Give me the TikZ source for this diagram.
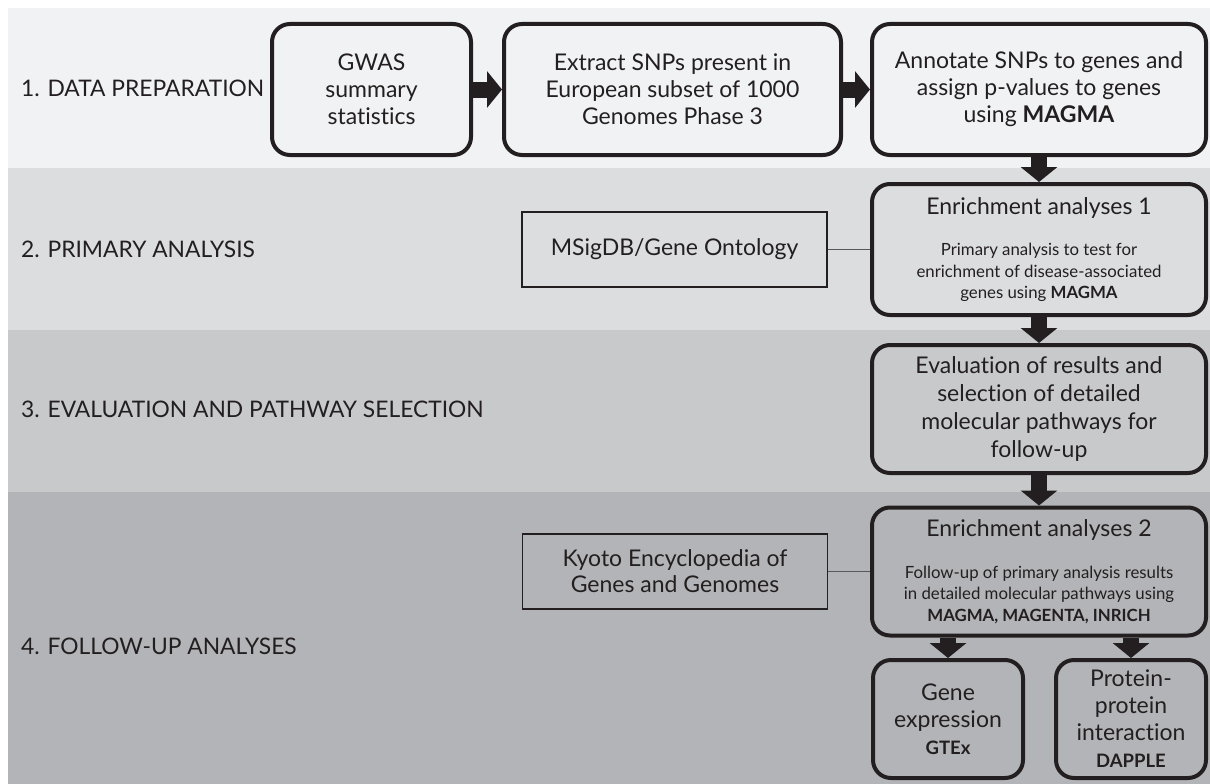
\documentclass[tikz,border=0pt]{standalone}
\usepackage{fontspec}
\setmainfont{Lato}[Ligatures=NoCommon]
\usetikzlibrary{arrows.meta}

\definecolor{ink}{HTML}{231F20}
\definecolor{bandA}{HTML}{F1F2F3}
\definecolor{bandB}{HTML}{DCDDDF}
\definecolor{bandC}{HTML}{C8C9CB}
\definecolor{bandD}{HTML}{B3B4B7}

\newcommand{\toolfont}{\fontsize{18.5}{22}\selectfont\bfseries}

\begin{document}
\begin{tikzpicture}[x=1pt,y=-1pt,
    stagebox/.style={draw=ink, line width=4pt, rounded corners=18pt, align=center,
        text=ink, inner sep=0pt, font=\fontsize{23}{27}\selectfont},
    dbbox/.style={draw=ink, line width=1.5pt, align=center, text=ink, inner sep=0pt,
        font=\fontsize{23}{26}\selectfont},
    smalltext/.style={font=\fontsize{16.8}{21.5}\selectfont},
    bigarrow/.style={draw=ink, line width=16pt, -{Triangle[width=36pt,length=15pt]}},
    link/.style={draw=ink!75, line width=1.2pt},
    steplabel/.style={anchor=west, text=ink, inner sep=0pt, font=\fontsize{22.8}{26}\selectfont}]

    \useasboundingbox (0,0) rectangle (1210,784);

    % Bands
    \foreach \top/\bot/\col in {8/168/bandA, 168/330/bandB, 330/492/bandC, 492/784/bandD}
        \fill[\col] (8,\top) rectangle (1210,\bot);

    % Stage labels
    \node[steplabel] (lab1) at (21,88)  {1. DATA PREPARATION};
    \node[steplabel] (lab2) at (21,249) {2. PRIMARY ANALYSIS};
    \node[steplabel] (lab3) at (21,409) {3. EVALUATION AND PATHWAY SELECTION};
    \node[steplabel] (lab4) at (21,646) {4. FOLLOW-UP ANALYSES};

    % Data preparation
    \node[stagebox, minimum width=199, minimum height=131] (gwas) at (371.5,89.5)
        {GWAS\\ summary\\ statistics};
    \node[stagebox, minimum width=337, minimum height=131] (extract) at (672.5,89.5)
        {Extract SNPs present in\\ European subset of 1000\\ Genomes Phase 3};
    \node[stagebox, minimum width=334, minimum height=131] (annot) at (1039,89.5)
        {Annotate SNPs to genes and\\ assign p-values to genes\\ using \textbf{MAGMA}};

    % Primary analysis
    \node[stagebox, smalltext, minimum width=334, minimum height=131] (enr1) at (1039,249.5)
        {{\fontsize{23}{27}\selectfont Enrichment analyses 1}\\[20pt]
         Primary analysis to test for\\ enrichment of disease-associated\\
         genes using \textbf{MAGMA}};
    \node[dbbox, minimum width=305, minimum height=75] (msig) at (674.5,249.5)
        {MSigDB/Gene Ontology};

    % Evaluation
    \node[stagebox, minimum width=334, minimum height=128, font=\fontsize{23}{27.7}\selectfont]
        (eval) at (1039,409)
        {Evaluation of results and\\ selection of detailed\\ molecular pathways for\\ follow-up};

    % Follow-up
    \node[stagebox, smalltext, minimum width=334, minimum height=128] (enr2) at (1039,571.5)
        {{\fontsize{23}{27}\selectfont Enrichment analyses 2}\\[20pt]
         Follow-up of primary analysis results\\ in detailed molecular pathways using\\
         \textbf{MAGMA, MAGENTA, INRICH}};
    \node[dbbox, minimum width=305, minimum height=75] (kegg) at (675,571.5)
        {Kyoto Encyclopedia of\\ Genes and Genomes};
    \node[stagebox, minimum width=150, minimum height=118] (gene) at (948,719)
        {Gene\\ expression\\ {\toolfont GTEx}};
    \node[stagebox, minimum width=150, minimum height=118] (prot) at (1131,719)
        {Protein-\\ protein\\ interaction\\ {\toolfont DAPPLE}};

    % Arrows
    \draw[bigarrow] (gwas) -- (extract);
    \draw[bigarrow] (extract) -- (annot);
    \draw[bigarrow] (annot) -- (enr1);
    \draw[bigarrow] (enr1) -- (eval);
    \draw[bigarrow] (eval) -- (enr2);
    \draw[bigarrow] (enr2.south -| gene.north) -- (gene.north);
    \draw[bigarrow] (enr2.south -| prot.north) -- (prot.north);

    % Database links
    \draw[link] (msig) -- (enr1);
    \draw[link] (kegg) -- (enr2);
\end{tikzpicture}
\end{document}
